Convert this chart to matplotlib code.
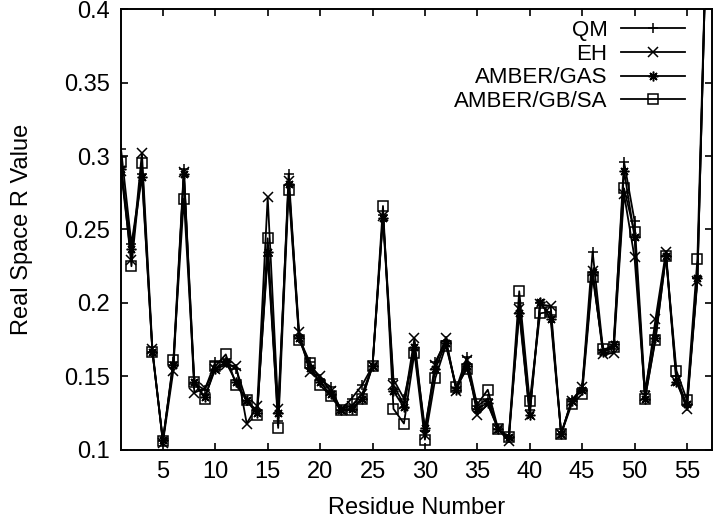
import numpy as np
import matplotlib
matplotlib.use("Agg")
import matplotlib.pyplot as plt

plt.rcParams['font.family'] = ['Liberation Sans', 'DejaVu Sans']

# residue numbers and R values per method
residues = np.arange(1, 58)

qm = [0.305, 0.240, 0.288, 0.167, 0.106, 0.160, 0.291, 0.145, 0.141, 0.160,
      0.160, 0.155, 0.133, 0.127, 0.232, 0.120, 0.288, 0.176, 0.160, 0.148,
      0.143, 0.127, 0.135, 0.144, 0.157, 0.260, 0.148, 0.135, 0.168, 0.113,
      0.160, 0.174, 0.142, 0.163, 0.130, 0.135, 0.114, 0.108, 0.200, 0.127,
      0.200, 0.192, 0.111, 0.134, 0.142, 0.235, 0.168, 0.169, 0.296, 0.256,
      0.140, 0.183, 0.232, 0.150, 0.130, 0.217, 0.490]
eh = [0.290, 0.229, 0.302, 0.169, 0.105, 0.154, 0.289, 0.139, 0.142, 0.155,
      0.158, 0.157, 0.118, 0.130, 0.272, 0.128, 0.283, 0.180, 0.153, 0.150,
      0.140, 0.128, 0.130, 0.138, 0.157, 0.259, 0.144, 0.131, 0.176, 0.110,
      0.158, 0.176, 0.140, 0.161, 0.124, 0.131, 0.114, 0.106, 0.196, 0.124,
      0.199, 0.198, 0.111, 0.133, 0.143, 0.222, 0.165, 0.166, 0.274, 0.231,
      0.137, 0.189, 0.235, 0.147, 0.128, 0.215, 0.490]
amber_gas = [0.291, 0.237, 0.286, 0.167, 0.107, 0.158, 0.288, 0.146, 0.136, 0.155,
             0.160, 0.146, 0.134, 0.125, 0.235, 0.125, 0.281, 0.176, 0.156, 0.146,
             0.138, 0.127, 0.128, 0.135, 0.157, 0.258, 0.140, 0.129, 0.170, 0.115,
             0.155, 0.173, 0.141, 0.157, 0.128, 0.132, 0.114, 0.109, 0.193, 0.124,
             0.201, 0.189, 0.111, 0.133, 0.141, 0.221, 0.167, 0.172, 0.290, 0.245,
             0.135, 0.176, 0.232, 0.146, 0.131, 0.217, 0.490]
amber_gbsa = [0.296, 0.225, 0.295, 0.167, 0.106, 0.161, 0.271, 0.146, 0.135, 0.157,
              0.165, 0.144, 0.134, 0.124, 0.244, 0.115, 0.277, 0.175, 0.159, 0.144,
              0.137, 0.127, 0.127, 0.135, 0.157, 0.266, 0.128, 0.118, 0.166, 0.107,
              0.149, 0.171, 0.143, 0.155, 0.131, 0.141, 0.114, 0.109, 0.208, 0.133,
              0.193, 0.194, 0.111, 0.131, 0.138, 0.218, 0.1685, 0.170, 0.278, 0.248,
              0.135, 0.175, 0.232, 0.154, 0.134, 0.230, 0.490]

labels = ["QM", "EH", "AMBER/GAS", "AMBER/GB/SA"]
xticks = [5, 10, 15, 20, 25, 30, 35, 40, 45, 50, 55]
yticks = [0.1, 0.15, 0.2, 0.25, 0.3, 0.35, 0.4]

FS = 17

fig = plt.figure(figsize=(7.2, 5.18), dpi=100)
ax = fig.add_axes([0.168, 0.1313, 0.821, 0.8513])

markers = ['+', 'x', (8, 2, 0), 's']
for vals, lab, m in zip([qm, eh, amber_gas, amber_gbsa], labels, markers):
    ax.plot(residues, vals, color='black', lw=1.3, marker=m, ms=7,
            mfc='none', mec='black', mew=1.1, label=lab)

ax.set_xlim(1, 57.4)
ax.set_ylim(0.1, 0.4)
ax.set_xticks(xticks)
ax.set_yticks(yticks)
ax.set_yticklabels(["0.1", "0.15", "0.2", "0.25", "0.3", "0.35", "0.4"])
ax.tick_params(direction='in', length=5, width=1.2, top=True, right=True,
               labelsize=FS, pad=8)
for sp in ax.spines.values():
    sp.set_linewidth(1.4)

ax.set_xlabel("Residue Number", fontsize=FS, labelpad=10)
ax.set_ylabel("Real Space R Value", fontsize=FS, labelpad=22)

leg = ax.legend(loc='upper right', markerfirst=False, frameon=False,
                fontsize=16, handlelength=2.9, labelspacing=0.12,
                handletextpad=0.6, borderaxespad=0.0, borderpad=0.2,
                bbox_to_anchor=(0.962, 0.985))

fig.savefig("out.png", dpi=100)
